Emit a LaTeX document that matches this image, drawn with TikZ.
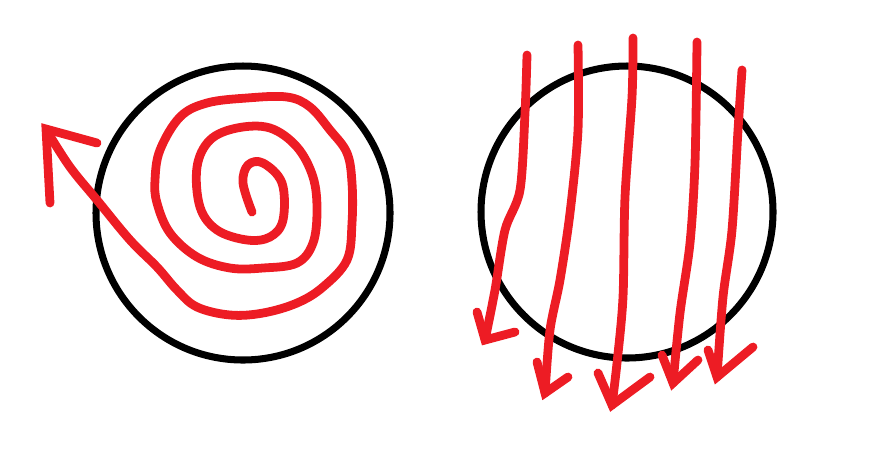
\documentclass[tikz,border=0pt]{standalone}
\usepackage{tikz}
\definecolor{paintred}{RGB}{237,28,36}

\begin{document}
\begin{tikzpicture}[x=0.02cm, y=-0.02cm,
    ring/.style={draw=black, line width=4pt},
    stroke/.style={draw=paintred, line width=5pt, line cap=round, line join=round},
    tip/.style={draw=paintred, line width=5pt, line cap=round, line join=miter}]

    \useasboundingbox (0,0) rectangle (874,458);

    % Circles
    \draw[ring] (243,213) circle (147);
    \draw[ring] (627,212) circle (146);

    % Spiral
    \draw[stroke] plot[smooth, tension=0.6] coordinates {
        (252,212) (243,183) (248,165) (263,163) (282,183) (283,220) (270,237)
        (247,240) (217,230) (200,207) (197,167) (210,140) (237,128) (270,128)
        (297,147) (313,177) (317,210) (313,243) (297,263) (263,268) (230,268)
        (197,257) (170,233) (157,203) (155,180) (160,150) (180,117) (207,103)
        (247,98) (287,97) (310,107) (330,130) (347,153) (352,183) (352,223)
        (347,260) (323,287) (297,303) (263,313) (230,315) (197,307) (177,290)
        (157,267) (130,240) (97,200) (70,167) (47,131)};
    \draw[tip] (50,203) -- (46,129) -- (97,143);

    % Vertical arrows
    \draw[stroke] plot[smooth, tension=0.5] coordinates {
        (527,55) (525,113) (520,190) (505,230) (495,290) (485,340)};
    \draw[tip] (477,312) -- (485,340) -- (515,332);

    \draw[stroke] plot[smooth, tension=0.5] coordinates {
        (578,45) (578,130) (570,213) (560,280) (550,330) (545,393)};
    \draw[tip] (537,362) -- (545,393) -- (568,377);

    \draw[stroke] plot[smooth, tension=0.5] coordinates {
        (633,38) (632,97) (625,197) (623,297) (617,363) (612,405)};
    \draw[tip] (598,373) -- (612,405) -- (650,377);

    \draw[stroke] plot[smooth, tension=0.5] coordinates {
        (697,42) (695,163) (690,243) (680,313) (673,383)};
    \draw[tip] (662,355) -- (673,383) -- (698,360);

    \draw[stroke] plot[smooth, tension=0.5] coordinates {
        (742,70) (738,130) (732,230) (723,297) (717,377)};
    \draw[tip] (708,350) -- (717,377) -- (753,347);

\end{tikzpicture}
\end{document}
